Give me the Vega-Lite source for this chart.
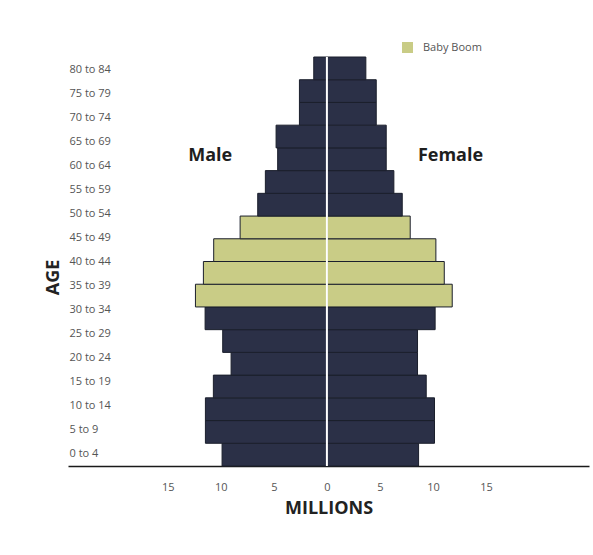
{
  "$schema": "https://vega.github.io/schema/vega-lite/v6.json",
  "width": 521,
  "height": 409,
  "autosize": {"type": "none"},
  "padding": {"left": 68, "top": 57, "right": 4, "bottom": 89},
  "background": "white",
  "config": {
    "view": {"stroke": null},
    "font": "Open Sans"
  },
  "datasets": {
    "bars": [
      {"age": "0 to 4", "sex": "Male", "millions": -9.88, "group": "Other"},
      {"age": "5 to 9", "sex": "Male", "millions": -11.45, "group": "Other"},
      {"age": "10 to 14", "sex": "Male", "millions": -11.45, "group": "Other"},
      {"age": "15 to 19", "sex": "Male", "millions": -10.7, "group": "Other"},
      {"age": "20 to 24", "sex": "Male", "millions": -9.03, "group": "Other"},
      {"age": "25 to 29", "sex": "Male", "millions": -9.82, "group": "Other"},
      {"age": "30 to 34", "sex": "Male", "millions": -11.48, "group": "Other"},
      {"age": "35 to 39", "sex": "Male", "millions": -12.39, "group": "Baby Boom"},
      {"age": "40 to 44", "sex": "Male", "millions": -11.64, "group": "Baby Boom"},
      {"age": "45 to 49", "sex": "Male", "millions": -10.67, "group": "Baby Boom"},
      {"age": "50 to 54", "sex": "Male", "millions": -8.18, "group": "Baby Boom"},
      {"age": "55 to 59", "sex": "Male", "millions": -6.52, "group": "Other"},
      {"age": "60 to 64", "sex": "Male", "millions": -5.8, "group": "Other"},
      {"age": "65 to 69", "sex": "Male", "millions": -4.64, "group": "Other"},
      {"age": "70 to 74", "sex": "Male", "millions": -4.79, "group": "Other"},
      {"age": "75 to 79", "sex": "Male", "millions": -2.59, "group": "Other"},
      {"age": "80 to 84", "sex": "Male", "millions": -2.59, "group": "Other"},
      {"age": "85+", "sex": "Male", "millions": -1.24, "group": "Other"},
      {"age": "0 to 4", "sex": "Female", "millions": 8.64, "group": "Other"},
      {"age": "5 to 9", "sex": "Female", "millions": 10.14, "group": "Other"},
      {"age": "10 to 14", "sex": "Female", "millions": 10.14, "group": "Other"},
      {"age": "15 to 19", "sex": "Female", "millions": 9.36, "group": "Other"},
      {"age": "20 to 24", "sex": "Female", "millions": 8.54, "group": "Other"},
      {"age": "25 to 29", "sex": "Female", "millions": 8.54, "group": "Other"},
      {"age": "30 to 34", "sex": "Female", "millions": 10.2, "group": "Other"},
      {"age": "35 to 39", "sex": "Female", "millions": 11.81, "group": "Baby Boom"},
      {"age": "40 to 44", "sex": "Female", "millions": 11.06, "group": "Baby Boom"},
      {"age": "45 to 49", "sex": "Female", "millions": 10.27, "group": "Baby Boom"},
      {"age": "50 to 54", "sex": "Female", "millions": 7.85, "group": "Baby Boom"},
      {"age": "55 to 59", "sex": "Female", "millions": 7.1, "group": "Other"},
      {"age": "60 to 64", "sex": "Female", "millions": 6.31, "group": "Other"},
      {"age": "65 to 69", "sex": "Female", "millions": 5.59, "group": "Other"},
      {"age": "70 to 74", "sex": "Female", "millions": 5.59, "group": "Other"},
      {"age": "75 to 79", "sex": "Female", "millions": 4.65, "group": "Other"},
      {"age": "80 to 84", "sex": "Female", "millions": 4.65, "group": "Other"},
      {"age": "85+", "sex": "Female", "millions": 3.67, "group": "Other"}
    ],
    "labels": [
      {"age": "80 to 84"}, {"age": "75 to 79"}, {"age": "70 to 74"}, {"age": "65 to 69"},
      {"age": "60 to 64"}, {"age": "55 to 59"}, {"age": "50 to 54"}, {"age": "45 to 49"},
      {"age": "40 to 44"}, {"age": "35 to 39"}, {"age": "30 to 34"}, {"age": "25 to 29"},
      {"age": "20 to 24"}, {"age": "15 to 19"}, {"age": "10 to 14"}, {"age": "5 to 9"},
      {"age": "0 to 4"}
    ]
  },
  "layer": [
    {
      "layer": [
        {
          "data": {"name": "bars"},
          "mark": {"type": "bar", "stroke": "#1b1f2c", "strokeWidth": 1},
          "encoding": {
            "y": {
              "field": "age", "type": "nominal", "axis": null,
              "scale": {
                "domain": ["85+", "80 to 84", "75 to 79", "70 to 74", "65 to 69", "60 to 64", "55 to 59", "50 to 54", "45 to 49", "40 to 44", "35 to 39", "30 to 34", "25 to 29", "20 to 24", "15 to 19", "10 to 14", "5 to 9", "0 to 4"],
                "paddingInner": 0, "paddingOuter": 0
              }
            },
            "x": {
              "field": "millions", "type": "quantitative",
              "scale": {"domain": [-24.4, 24.7], "nice": false, "zero": false},
              "axis": {
                "values": [-15, -10, -5, 0, 5, 10, 15],
                "labelExpr": "abs(datum.value)",
                "grid": false, "ticks": false,
                "domainColor": "#1a1a1a", "domainWidth": 1.5,
                "labelFont": "Open Sans", "labelFontSize": 11, "labelColor": "#555555",
                "labelPadding": 15,
                "title": "MILLIONS", "titleFont": "Open Sans", "titleFontSize": 18,
                "titleFontWeight": "bold", "titleColor": "#222222",
                "titleBaseline": "alphabetic", "titleY": 47
              }
            },
            "color": {
              "field": "group", "type": "nominal",
              "scale": {"domain": ["Baby Boom", "Other"], "range": ["#c9cc86", "#2b3047"]},
              "legend": {
                "values": ["Baby Boom"], "title": null, "orient": "none",
                "legendX": 334, "legendY": -15,
                "symbolType": "square", "symbolSize": 121, "symbolStrokeWidth": 0,
                "symbolOpacity": 1,
                "labelFont": "Open Sans", "labelFontSize": 11, "labelColor": "#555555",
                "labelOffset": 10
              }
            }
          }
        },
        {
          "data": {"values": [{}]},
          "mark": {"type": "rule", "color": "white", "strokeWidth": 2},
          "encoding": {"x": {"datum": 0}}
        },
        {
          "data": {"values": [{}]},
          "mark": {"type": "text", "font": "Open Sans", "fontSize": 18, "fontWeight": "bold", "color": "#1e1e1e", "dy": -3},
          "encoding": {
            "x": {"datum": -11},
            "y": {"datum": "65 to 69"},
            "text": {"value": "Male"}
          }
        },
        {
          "data": {"values": [{}]},
          "mark": {"type": "text", "font": "Open Sans", "fontSize": 18, "fontWeight": "bold", "color": "#1e1e1e", "dy": -3},
          "encoding": {
            "x": {"datum": 11.65},
            "y": {"datum": "65 to 69"},
            "text": {"value": "Female"}
          }
        }
      ]
    },
    {
      "data": {"name": "labels"},
      "mark": {"type": "point", "opacity": 0},
      "encoding": {
        "x": {"datum": 0},
        "y": {
          "field": "age", "type": "nominal",
          "scale": {"domain": ["80 to 84", "75 to 79", "70 to 74", "65 to 69", "60 to 64", "55 to 59", "50 to 54", "45 to 49", "40 to 44", "35 to 39", "30 to 34", "25 to 29", "20 to 24", "15 to 19", "10 to 14", "5 to 9", "0 to 4"]},
          "axis": {
            "orient": "left", "domain": false, "ticks": false, "grid": false,
            "labelAlign": "left", "labelPadding": -1,
            "labelFont": "Open Sans", "labelFontSize": 11, "labelColor": "#555555",
            "title": "AGE", "titleFont": "Open Sans", "titleFontSize": 18,
            "titleFontWeight": "bold", "titleColor": "#222222",
            "titleAngle": -90, "titleX": -10, "titleY": 220,
            "titleAlign": "center", "titleBaseline": "alphabetic"
          }
        }
      }
    }
  ],
  "resolve": {"scale": {"y": "independent"}}
}
